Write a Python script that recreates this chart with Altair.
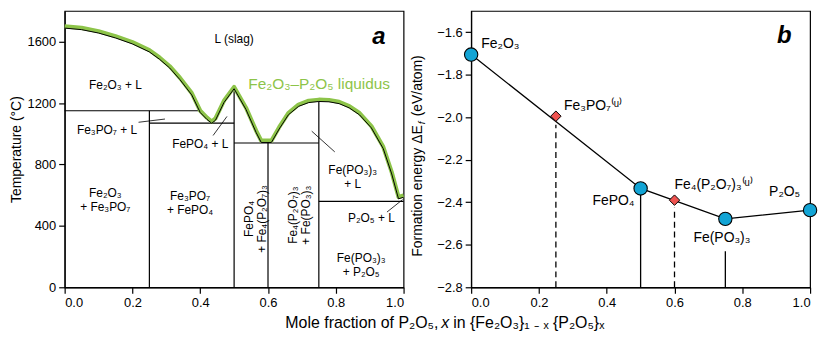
import altair as alt
import pandas as pd

FONT = "Liberation Sans"
GREEN = "#8dc449"
BLUE = "#12a4d5"
RED = "#ef5350"

# ---------------- panel a : phase diagram ----------------
liq_x = [0.0, 0.05, 0.10, 0.15, 0.20, 0.25, 0.28, 0.31, 0.34, 0.375, 0.40, 0.42, 0.434,
         0.445, 0.47, 0.50, 0.535, 0.565, 0.58, 0.61, 0.633, 0.66, 0.69, 0.72, 0.75,
         0.78, 0.81, 0.84, 0.87, 0.905, 0.94, 0.965, 0.985, 1.0]
liq_T = [1700, 1690, 1668, 1636, 1597, 1545, 1497, 1440, 1365, 1265, 1150, 1105, 1080,
         1100, 1215, 1305, 1170, 1020, 955, 955, 1043, 1135, 1190, 1215, 1222,
         1220, 1208, 1180, 1135, 1050, 915, 750, 588, 598]

seg_x1 = [0.0, 0.25, 0.5, 0.75, 0.25, 0.5, 0.6, 0.75]
seg_x2 = [0.40, 0.5, 0.75, 1.0, 0.25, 0.5, 0.6, 0.75]
seg_T1 = [1150, 1070, 940, 560, 0, 0, 0, 0]
seg_T2 = [1150, 1070, 940, 560, 1150, 1295, 940, 1215]

lead_x1 = [0.218, 0.438, 0.729, 0.951]
lead_x2 = [0.296, 0.479, 0.797, 0.997]
lead_T1 = [1075, 989, 1017, 490]
lead_T2 = [1096, 1113, 882, 571]

lab_text = ["L (slag)", "Fe₂O₃ + L", "Fe₃PO₇ + L", "FePO₄ + L", "Fe(PO₃)₃\n+ L",
            "P₂O₅ + L", "Fe₂O₃\n+ Fe₃PO₇", "Fe₃PO₇\n+ FePO₄", "Fe(PO₃)₃\n+ P₂O₅"]
lab_x = [0.50, 0.15, 0.125, 0.40, 0.85, 0.905, 0.12, 0.37, 0.875]
lab_T = [1620, 1320, 1025, 935, 765, 454, 615, 595, 193]

rot_text = ["FePO₄\n+ Fe₄(P₂O₇)₃", "Fe₄(P₂O₇)₃\n+ Fe(PO₃)₃"]
rot_x = [0.545, 0.673]
rot_T = [445, 470]

# ---------------- panel b : formation energies ----------------
comp_names = ["Fe₂O₃", "Fe₃PO₇", "FePO₄", "Fe₄(P₂O₇)₃", "Fe(PO₃)₃", "P₂O₅"]
comp_x = [0.0, 0.25, 0.5, 0.6, 0.75, 1.0]
comp_E = [-1.705, -1.995, -2.335, -2.39, -2.478, -2.437]
comp_stable = [True, False, True, False, True, True]

drop_x = [0.25, 0.5, 0.6, 0.75]
drop_E1 = [-2.8, -2.8, -2.8, -2.8]
drop_E2 = [-2.035, -2.335, -2.425, -2.63]
drop_dashed = [True, False, True, False]

blab_text = ["Fe₂O₃", "Fe₃PO₇⁽ᵘ⁾", "FePO₄", "Fe₄(P₂O₇)₃⁽ᵘ⁾", "Fe(PO₃)₃", "P₂O₅"]
blab_x = [0.03, 0.274, 0.482, 0.60, 0.74, 0.925]
blab_E = [-1.655, -1.945, -2.393, -2.32, -2.57, -2.352]
blab_align = ["left", "left", "right", "left", "center", "center"]

W, H = 341, 278

xscale = alt.Scale(domain=[0, 1], nice=False, zero=False, padding=0)
xaxis = alt.Axis(values=[0, 0.2, 0.4, 0.6, 0.8, 1.0], format=".1f", title=None)

# ---- left chart layers
liq = pd.DataFrame({"x": liq_x, "T": liq_T, "i": list(range(len(liq_x)))})
segs = pd.DataFrame({"x1": seg_x1, "x2": seg_x2, "T1": seg_T1, "T2": seg_T2})
leads = pd.DataFrame({"x1": lead_x1, "x2": lead_x2, "T1": lead_T1, "T2": lead_T2})
labs = pd.DataFrame({"t": lab_text, "x": lab_x, "T": lab_T})
rots = pd.DataFrame({"t": rot_text, "x": rot_x, "T": rot_T})

yA = alt.Scale(domain=[0, 1800], nice=False, zero=False, padding=0)
yAaxis = alt.Axis(values=[0, 400, 800, 1200, 1600], format="d",
                  title="Temperature (°C)", titlePadding=4)

base_seg = alt.Chart(segs).mark_rule(color="black", strokeWidth=1.2).encode(
    x=alt.X("x1:Q", scale=xscale, axis=xaxis),
    x2="x2:Q",
    y=alt.Y("T1:Q", scale=yA, axis=yAaxis),
    y2="T2:Q",
)
lead_l = alt.Chart(leads).mark_rule(color="black", strokeWidth=0.8).encode(
    x="x1:Q", x2="x2:Q", y="T1:Q", y2="T2:Q")
liq_green = alt.Chart(liq).mark_line(color=GREEN, strokeWidth=4.2, strokeJoin="round").encode(
    x="x:Q", y="T:Q", order="i:Q")
liq_black = alt.Chart(liq).mark_line(color="black", strokeWidth=1.0, yOffset=1.8).encode(
    x="x:Q", y="T:Q", order="i:Q")
lab_l = alt.Chart(labs).mark_text(font=FONT, fontSize=12, lineBreak="\n", lineHeight=14,
                                  color="black").encode(x="x:Q", y="T:Q", text="t:N")
rot_l = alt.Chart(rots).mark_text(font=FONT, fontSize=12, lineBreak="\n", lineHeight=13,
                                  angle=270, color="black").encode(x="x:Q", y="T:Q", text="t:N")
liq_lab = alt.Chart(pd.DataFrame({"t": ["Fe₂O₃–P₂O₅ liquidus"], "x": [0.751], "T": [1327]})).mark_text(
    font=FONT, fontSize=15.5, color=GREEN).encode(x="x:Q", y="T:Q", text="t:N")
a_lab = alt.Chart(pd.DataFrame({"t": ["a"], "x": [0.927], "T": [1631]})).mark_text(
    font=FONT, fontSize=24, fontWeight="bold", fontStyle="italic", color="black").encode(
    x="x:Q", y="T:Q", text="t:N")

# shared x-axis title (three pieces so that x is italic)
xt1 = alt.Chart(pd.DataFrame({"t": ["Mole fraction of P₂O₅,"]})).mark_text(
    font=FONT, fontSize=16, align="right", baseline="middle", color="black").encode(
    x=alt.value(376), y=alt.value(H + 36), text="t:N")
xt2 = alt.Chart(pd.DataFrame({"t": ["x"]})).mark_text(
    font=FONT, fontSize=16, fontStyle="italic", align="center", baseline="middle", color="black").encode(
    x=alt.value(383), y=alt.value(H + 36), text="t:N")
xt3 = alt.Chart(pd.DataFrame({"t": ["in {Fe₂O₃}₁ ₋ ₓ {P₂O₅}ₓ"]})).mark_text(
    font=FONT, fontSize=16, align="left", baseline="middle", color="black").encode(
    x=alt.value(391), y=alt.value(H + 36), text="t:N")

left = alt.layer(base_seg, lead_l, liq_green, liq_black, lab_l, rot_l, liq_lab, a_lab,
                 xt1, xt2, xt3).properties(width=W, height=H)

# ---- right chart layers
comp = pd.DataFrame({"n": comp_names, "x": comp_x, "E": comp_E, "s": comp_stable})
hull = comp[comp["s"]]
drops = pd.DataFrame({"x": drop_x, "E1": drop_E1, "E2": drop_E2, "d": drop_dashed})
blabs = pd.DataFrame({"t": blab_text, "x": blab_x, "E": blab_E, "a": blab_align})

yB = alt.Scale(domain=[-2.8, -1.5], nice=False, zero=False, padding=0)
yBaxis = alt.Axis(values=[-2.8, -2.6, -2.4, -2.2, -2.0, -1.8, -1.6], format=".1f", title=None)

drop_solid = alt.Chart(drops[~drops["d"]]).mark_rule(color="black", strokeWidth=1.3).encode(
    x=alt.X("x:Q", scale=xscale, axis=xaxis),
    y=alt.Y("E1:Q", scale=yB, axis=yBaxis),
    y2="E2:Q",
)
drop_dash = alt.Chart(drops[drops["d"]]).mark_rule(color="black", strokeWidth=1.3,
                                                    strokeDash=[6, 4]).encode(
    x="x:Q", y="E1:Q", y2="E2:Q")
hull_l = alt.Chart(hull).mark_line(color="black", strokeWidth=1.3).encode(x="x:Q", y="E:Q")
stable_p = alt.Chart(hull).mark_point(shape="circle", filled=True, fill=BLUE, stroke="black",
                                      strokeWidth=1.1, size=180, opacity=1).encode(x="x:Q", y="E:Q")
unstable_p = alt.Chart(comp[~comp["s"]]).mark_point(shape="diamond", filled=True, fill=RED,
                                                    stroke="black", strokeWidth=1.0, size=110,
                                                    opacity=1).encode(x="x:Q", y="E:Q")
blab_layers = []
for al in ["left", "right", "center"]:
    blab_layers.append(
        alt.Chart(blabs[blabs["a"] == al]).mark_text(font=FONT, fontSize=14, align=al,
                                                     color="black").encode(
            x="x:Q", y="E:Q", text="t:N"))
b_lab = alt.Chart(pd.DataFrame({"t": ["b"], "x": [0.924], "E": [-1.619]})).mark_text(
    font=FONT, fontSize=24, fontWeight="bold", fontStyle="italic", color="black").encode(
    x="x:Q", y="E:Q", text="t:N")

# y-axis title of panel b in pieces (subscript f)
yt1 = alt.Chart(pd.DataFrame({"t": ["Formation energy ΔE"]})).mark_text(
    font=FONT, fontSize=14, angle=270, align="right", baseline="middle", color="black").encode(
    x=alt.value(-53), y=alt.value(115), text="t:N")
yt2 = alt.Chart(pd.DataFrame({"t": ["f"]})).mark_text(
    font=FONT, fontSize=10, fontStyle="italic", angle=270, align="left", baseline="middle",
    color="black").encode(x=alt.value(-49), y=alt.value(114), text="t:N")
yt3 = alt.Chart(pd.DataFrame({"t": ["(eV/atom)"]})).mark_text(
    font=FONT, fontSize=14, angle=270, align="left", baseline="middle", color="black").encode(
    x=alt.value(-53), y=alt.value(106), text="t:N")

right = alt.layer(drop_solid, drop_dash, hull_l, stable_p, unstable_p, *blab_layers, b_lab,
                  yt1, yt2, yt3).properties(width=W, height=H)

chart = alt.hconcat(left, right, spacing=68, bounds="flush").properties(
    padding={"left": 0, "top": 1, "right": 2, "bottom": 0}
).configure_axis(
    labelFont=FONT, titleFont=FONT, labelFontSize=13, titleFontSize=14,
    labelColor="black", titleColor="black", tickColor="black", domainColor="black",
    tickSize=6, tickWidth=1.2, domainWidth=1.2, labelPadding=3, grid=False,
    titleFontWeight="normal",
).configure_view(stroke="black", strokeWidth=1.2)

chart.save("out.html", embed_options={"renderer": "svg", "actions": False})
